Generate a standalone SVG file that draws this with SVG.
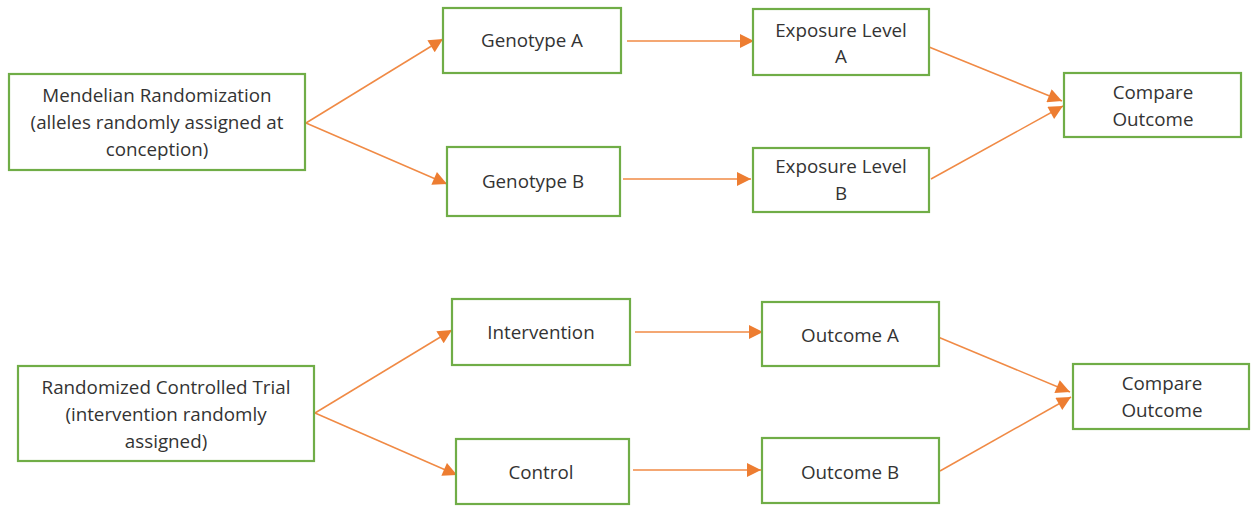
<svg xmlns="http://www.w3.org/2000/svg" width="1251" height="506" viewBox="0 0 1251 506">
<style>
.box{fill:#fff;stroke:#70AD47;stroke-width:2.2}
.t{font-family:"Open Sans","Liberation Sans",sans-serif;font-size:18.8px;fill:#333;text-anchor:middle}
.c{stroke:#F08A45;stroke-width:1.5;fill:none;marker-end:url(#ah)}
</style>
<defs>
<marker id="ah" viewBox="0 0 10 10" refX="10" refY="5" markerWidth="15" markerHeight="14" markerUnits="userSpaceOnUse" orient="auto">
<path d="M0,0 L10,5 L0,10 Z" fill="#ED7D31"/>
</marker>
</defs>
<rect width="1251" height="506" fill="#fff"/>
<g id="connectors">
<line class="c" x1="306" y1="123" x2="443" y2="39"/>
<line class="c" x1="306" y1="123" x2="447" y2="184"/>
<line class="c" x1="627" y1="41" x2="754" y2="41"/>
<line class="c" x1="623" y1="179" x2="751" y2="179"/>
<line class="c" x1="929" y1="47" x2="1062" y2="101"/>
<line class="c" x1="931" y1="179" x2="1063" y2="106"/>
<line class="c" x1="315" y1="413" x2="452" y2="330"/>
<line class="c" x1="315" y1="413" x2="457" y2="475"/>
<line class="c" x1="635" y1="332" x2="763" y2="332"/>
<line class="c" x1="633" y1="470" x2="761" y2="470"/>
<line class="c" x1="938" y1="337" x2="1070" y2="392"/>
<line class="c" x1="940" y1="471" x2="1071" y2="397"/>
</g>
<g id="mendelian">
<rect class="box" x="9" y="74" width="296" height="96"/>
<text class="t" x="157" y="102">Mendelian Randomization</text>
<text class="t" x="157" y="129">(alleles randomly assigned at</text>
<text class="t" x="157" y="156">conception)</text>
</g>
<g id="genotypeA">
<rect class="box" x="443" y="8" width="178" height="65"/>
<text class="t" x="532" y="47">Genotype A</text>
</g>
<g id="genotypeB">
<rect class="box" x="447" y="147" width="173" height="69"/>
<text class="t" x="533" y="188">Genotype B</text>
</g>
<g id="exposureA">
<rect class="box" x="753" y="9" width="176" height="66"/>
<text class="t" x="841" y="37">Exposure Level</text>
<text class="t" x="841" y="63">A</text>
</g>
<g id="exposureB">
<rect class="box" x="753" y="148" width="176" height="64"/>
<text class="t" x="841" y="173">Exposure Level</text>
<text class="t" x="841" y="200">B</text>
</g>
<g id="compare1">
<rect class="box" x="1064" y="73" width="177" height="64"/>
<text class="t" x="1153" y="99">Compare</text>
<text class="t" x="1153" y="126">Outcome</text>
</g>
<g id="rct">
<rect class="box" x="18" y="366" width="296" height="95"/>
<text class="t" x="166" y="394">Randomized Controlled Trial</text>
<text class="t" x="166" y="421">(intervention randomly</text>
<text class="t" x="166" y="448">assigned)</text>
</g>
<g id="intervention">
<rect class="box" x="452" y="299" width="178" height="66"/>
<text class="t" x="541" y="339">Intervention</text>
</g>
<g id="control">
<rect class="box" x="456" y="439" width="173" height="65"/>
<text class="t" x="541" y="479">Control</text>
</g>
<g id="outcomeA">
<rect class="box" x="762" y="302" width="177" height="64"/>
<text class="t" x="850" y="342">Outcome A</text>
</g>
<g id="outcomeB">
<rect class="box" x="762" y="438" width="177" height="65"/>
<text class="t" x="850" y="479">Outcome B</text>
</g>
<g id="compare2">
<rect class="box" x="1073" y="364" width="176" height="65"/>
<text class="t" x="1162" y="390">Compare</text>
<text class="t" x="1162" y="417">Outcome</text>
</g>
</svg>
